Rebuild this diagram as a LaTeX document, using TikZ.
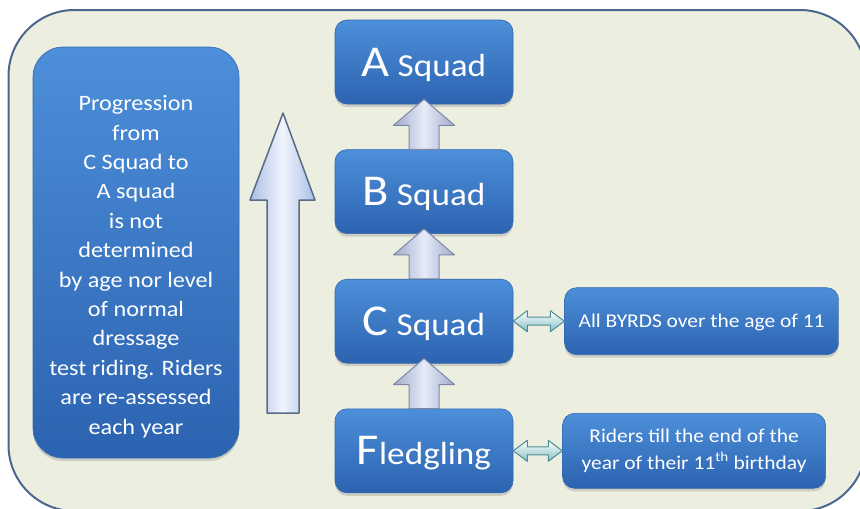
\documentclass[tikz,border=0pt]{standalone}
\usepackage{fontspec}
\setmainfont{Carlito}[FakeStretch=1.1]
\usetikzlibrary{positioning, calc, shadows}
\definecolor{paper}{HTML}{ECEFDF}
\definecolor{frame}{HTML}{4A6790}
\definecolor{boxtop}{HTML}{4D8FDA}
\definecolor{boxbot}{HTML}{2C63B0}
\definecolor{boxline}{HTML}{3568AE}
\definecolor{stepedge}{HTML}{7D88A6}
\definecolor{stepside}{HTML}{A0ABCC}
\definecolor{stepmid}{HTML}{E6EBF8}
\definecolor{bigedge}{HTML}{5B6A86}
\definecolor{bigside}{HTML}{A9BFE6}
\definecolor{bigmid}{HTML}{F0F4FC}
\definecolor{linkedge}{HTML}{4E8D97}
\definecolor{linkbot}{HTML}{86BFC7}
\newcommand\sqinit[1]{{\fontsize{44}{44}\selectfont #1}}
\tikzset{x=1pt, y=-1pt,
    node distance=45pt,
    boxed/.style={top color=boxtop, bottom color=boxbot, draw=boxline, line width=0.6pt,
        text=white, drop shadow={shadow xshift=0pt, shadow yshift=-3pt, opacity=0.3}},
    squad/.style={boxed, rounded corners=12pt, minimum width=178pt, minimum height=84pt,
        text depth=0pt, font=\fontsize{32}{32}\selectfont},
    note/.style={boxed, rounded corners=12pt, minimum height=67pt, align=center,
        font=\fontsize{19.5}{26.5}\selectfont},
    panel/.style={boxed, rounded corners=30pt, minimum width=206pt, minimum height=411pt},
    paneltext/.style={text=white, align=center, font=\fontsize{22}{29.4}\selectfont},
    bigarr/.style={draw=bigedge, line width=1.5pt, line join=round,
        left color=bigside, right color=bigside, middle color=bigmid},
    steparr/.style={draw=stepedge, line width=1pt, line join=round,
        left color=stepside, right color=stepside, middle color=stepmid},
    sidearr/.style={draw=linkedge, line width=1pt, line join=round,
        top color=white, bottom color=linkbot}}

\begin{document}
\begin{tikzpicture}
\useasboundingbox (0,0) rectangle (860,509);
\clip (0,0) rectangle (860,509);
\draw[draw=frame, fill=paper, line width=2pt, rounded corners=66pt] (8.5,10) rectangle (866,511);

\node[panel]     (prog)     at (136,252.5)               {};
\node[paneltext] (progtext) at ($(prog.center)+(0,14)$)  {Progression\\from\\C Squad to\\A squad\\is not\\determined\\by age nor level\\of normal\\dressage\\test riding. Riders\\are re-assessed\\each year};

\draw[bigarr] (267,413) -- (267,200) -- (250,200) -- (283,113) -- (315,200) -- (299,200) -- (299,413) -- cycle;

\node[squad] (a)   at (424,62)          {\sqinit{A} Squad};
\node[squad] (b)   [below=of a]         {\sqinit{B} Squad};
\node[squad] (c)   [below=of b]         {\sqinit{C} Squad};
\node[squad] (f)   [below=of c]         {\sqinit{F}ledgling};
\node[note, minimum width=274pt, text depth=0pt] (all) [right=51pt of c] {All BYRDS over the age of 11};
\node[note, minimum width=263pt, minimum height=75pt] (rid) [right=49pt of f] {Riders till the end of the\\year of their 11\textsuperscript{th} birthday};

\foreach \lo/\hi in {b/a, c/b, f/c}
    \draw[steparr] ($(\lo.north)+(-15,0)$) -- ($(\lo.north)+(-15,-24)$) -- ($(\lo.north)+(-30.5,-24)$)
        -- ($(\hi.south)+(0,-5)$) -- ($(\lo.north)+(30.5,-24)$) -- ($(\lo.north)+(15,-24)$)
        -- ($(\lo.north)+(15,0)$) -- cycle;

\foreach \l/\r in {c/all, f/rid}
    \draw[sidearr] (\l.east) -- ($(\l.east)+(14,-10.5)$) -- ($(\l.east)+(14,-4)$)
        -- ($(\r.west)+(-14,-4)$) -- ($(\r.west)+(-14,-10.5)$) -- (\r.west)
        -- ($(\r.west)+(-14,10.5)$) -- ($(\r.west)+(-14,4)$) -- ($(\l.east)+(14,4)$)
        -- ($(\l.east)+(14,10.5)$) -- cycle;
\end{tikzpicture}
\end{document}
